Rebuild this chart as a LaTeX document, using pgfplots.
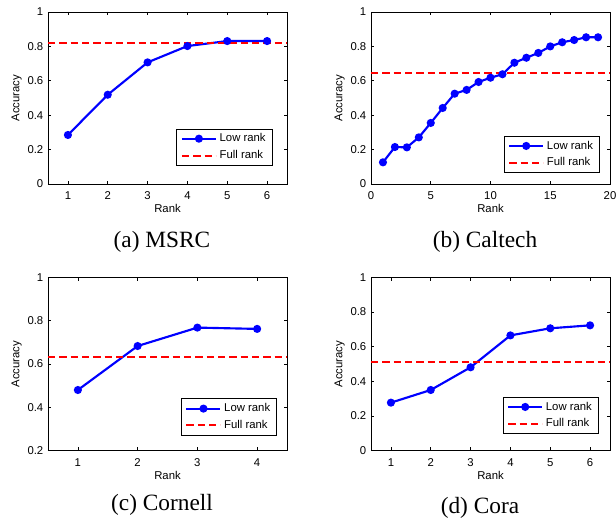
\documentclass[border=0pt]{standalone}
\usepackage{fontspec}
\setmainfont{Liberation Serif}
\setsansfont{Liberation Sans}
\usepackage{pgfplots}
\pgfplotsset{compat=1.18}

\pgfplotsset{
  rankplot/.style={
    scale only axis,
    width=179.25pt,
    anchor=south west,
    font=\sffamily\fontsize{8.5}{10}\selectfont,
    /pgf/number format/assume math mode=true,
    axis line style={line width=0.6pt},
    tick align=inside,
    tick pos=both,
    major tick length=2.5pt,
    every tick/.style={black, line width=0.5pt},
    xticklabel style={yshift=-2.5pt},
    xlabel={Rank},
    ylabel={Accuracy},
    xlabel style={at={(axis description cs:0.5,0)}, anchor=center, yshift=-18.5pt},
    ylabel style={at={(axis description cs:0,0.5)}, anchor=center, yshift=23.5pt},
    legend cell align=left,
    legend style={draw=black, line width=0.6pt, font=\sffamily\fontsize{8.5}{10}\selectfont,
      inner xsep=3pt, inner ysep=1.5pt, row sep=1pt},
    legend image code/.code={
      \draw[mark repeat=2, mark phase=2, #1] plot coordinates {(0pt,0pt) (12.75pt,0pt) (25.5pt,0pt)};
    },
  },
  lowrank/.style={blue, line width=1.6pt, mark=*, mark size=2.2pt, mark options={solid, fill=blue}},
  fullrank/.style={red, line width=1.5pt, dash pattern=on 5.5pt off 3pt},
}

\begin{document}
\begin{tikzpicture}
\useasboundingbox (0pt,0pt) rectangle (462pt,390pt);

% (a) MSRC
\begin{axis}[rankplot, at={(36pt,252pt)}, height=129pt,
  xmin=0.5, xmax=6.5, ymin=0, ymax=1, xtick={1,...,6}, ytick={0,0.2,...,1},
  legend style={at={(1,0)}, anchor=south east, xshift=-10.7pt, yshift=13.7pt}]
\addplot[lowrank] coordinates {(1,0.285) (2,0.519) (3,0.707) (4,0.802) (5,0.831) (6,0.831)};
\addplot[fullrank] coordinates {(0.5,0.820) (6.5,0.820)};
\legend{Low rank, Full rank}
\end{axis}

% (b) Caltech
\begin{axis}[rankplot, at={(278.25pt,252pt)}, height=129pt,
  xmin=0, xmax=20, ymin=0, ymax=1, xtick={0,5,...,20}, ytick={0,0.2,...,1},
  legend style={at={(1,0)}, anchor=south east, xshift=-7.5pt, yshift=8.25pt}]
\addplot[lowrank] coordinates {
  (1,0.126) (2,0.215) (3,0.213) (4,0.271) (5,0.355) (6,0.442) (7,0.525)
  (8,0.547) (9,0.593) (10,0.618) (11,0.638) (12,0.705) (13,0.734) (14,0.762)
  (15,0.800) (16,0.824) (17,0.837) (18,0.853) (19,0.853)};
\addplot[fullrank] coordinates {(0,0.645) (20,0.645)};
\legend{Low rank, Full rank}
\end{axis}

% (c) Cornell
\begin{axis}[rankplot, at={(36pt,52pt)}, height=130pt,
  xmin=0.5, xmax=4.5, ymin=0.2, ymax=1, xtick={1,...,4}, ytick={0.2,0.4,...,1},
  legend style={at={(1,0)}, anchor=south east, xshift=-7.3pt, yshift=11.25pt}]
\addplot[lowrank] coordinates {(1,0.480) (2,0.683) (3,0.768) (4,0.762)};
\addplot[fullrank] coordinates {(0.5,0.634) (4.5,0.634)};
\legend{Low rank, Full rank}
\end{axis}

% (d) Cora
\begin{axis}[rankplot, at={(278.25pt,52pt)}, height=130pt,
  xmin=0.5, xmax=6.5, ymin=0, ymax=1, xtick={1,...,6}, ytick={0,0.2,...,1},
  legend style={at={(1,0)}, anchor=south east, xshift=-8.25pt, yshift=12.5pt}]
\addplot[lowrank] coordinates {(1,0.277) (2,0.350) (3,0.481) (4,0.665) (5,0.706) (6,0.723)};
\addplot[fullrank] coordinates {(0.5,0.513) (6.5,0.513)};
\legend{Low rank, Full rank}
\end{axis}

\node[anchor=base, font=\rmfamily\fontsize{17.5}{20}\selectfont] at (121.5pt,204.5pt) {(a) MSRC};
\node[anchor=base, font=\rmfamily\fontsize{17.5}{20}\selectfont] at (363.75pt,204.5pt) {(b) Caltech};
\node[anchor=base, font=\rmfamily\fontsize{17.5}{20}\selectfont] at (121.5pt,7pt) {(c) Cornell};
\node[anchor=base, font=\rmfamily\fontsize{17.5}{20}\selectfont] at (360pt,5.2pt) {(d) Cora};
\end{tikzpicture}
\end{document}
